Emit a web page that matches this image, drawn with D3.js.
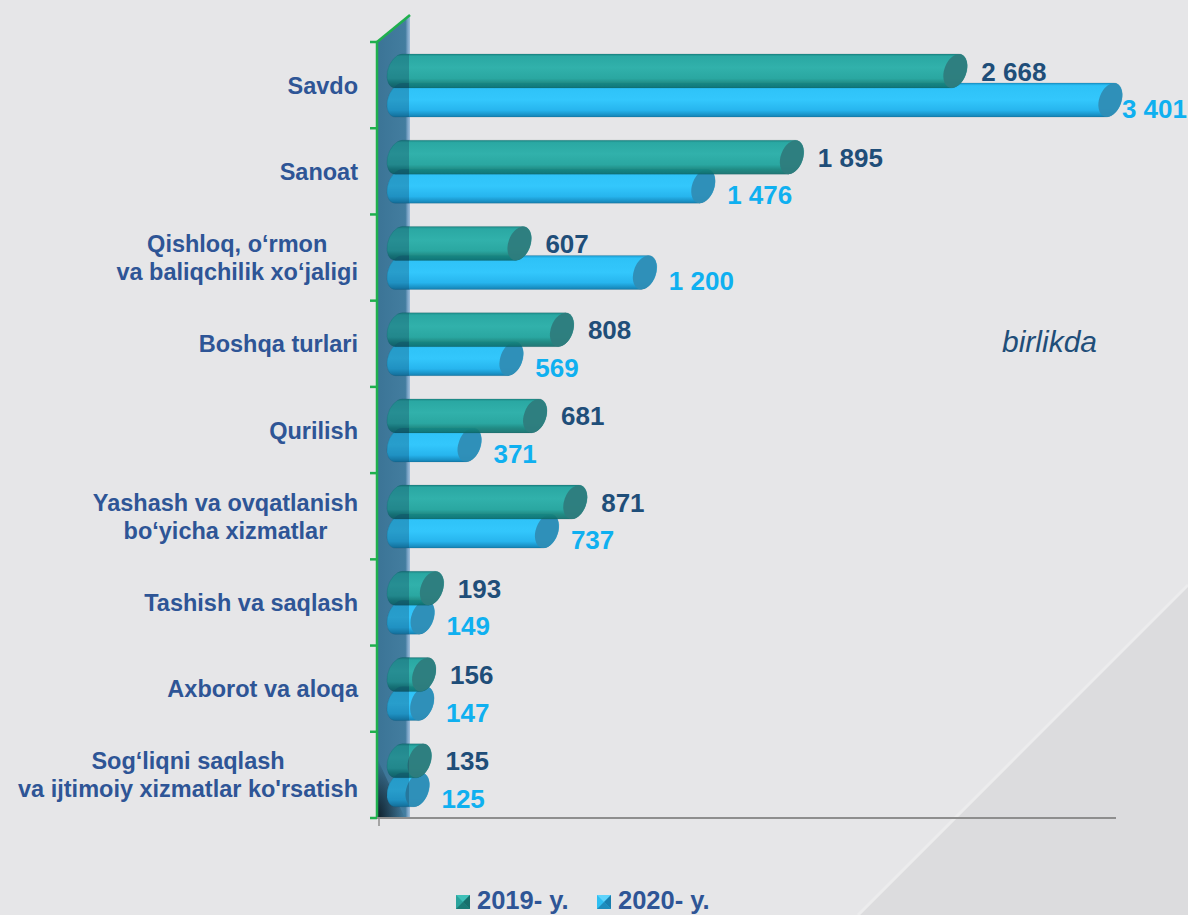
<!DOCTYPE html>
<html>
<head>
<meta charset="utf-8">
<script src="https://cdn.jsdelivr.net/npm/d3@7"></script>
<style>
  html, body { margin: 0; padding: 0; background: #e6e6e8; }
  svg { display: block; font-family: "Liberation Sans", Arial, sans-serif; }
</style>
</head>
<body>
<svg id="chart" width="1188" height="915"></svg>
<script>
// ---- data ----
const categories = [
  "Savdo",
  "Sanoat",
  "Qishloq, o‘rmon\nva baliqchilik xo‘jaligi",
  "Boshqa turlari",
  "Qurilish",
  "Yashash va ovqatlanish\nbo‘yicha xizmatlar",
  "Tashish va saqlash",
  "Axborot va aloqa",
  "Sog‘liqni saqlash\nva ijtimoiy xizmatlar ko'rsatish"
];
const values2019 = [2668, 1895, 607, 808, 681, 871, 193, 156, 135];
const values2020 = [3401, 1476, 1200, 569, 371, 737, 149, 147, 125];
const seriesNames = ["2019- y.", "2020- y."];
const unitLabel = "birlikda";

// ---- setup ----
const W = 1188, H = 915;
const svg = d3.select("#chart");
const defs = svg.append("defs");

const fmt = d3.formatLocale({decimal: ",", thousands: " ", grouping: [3], currency: ["", ""]}).format(",");

const x = d3.scaleLinear().domain([0, 3500]).range([391, 391 + 3500 * 0.2115]);
const y = d3.scaleBand().domain(categories).range([42, 818]).padding(0);

const wallL = 377, wallR = 410;
const barH = 34, off2019 = 12, off2020 = 41;
const capRx = 11, capRy = 17.5, capRot = 20, capDx = 3.4;

// gradients
function vgrad(id, stops) {
  const g = defs.append("linearGradient").attr("id", id)
    .attr("x1", 0).attr("y1", 0).attr("x2", 0).attr("y2", 1);
  stops.forEach(s => g.append("stop").attr("offset", s[0]).attr("stop-color", s[1]).attr("stop-opacity", s[2] == null ? 1 : s[2]));
}
vgrad("g2019", [[0, "#1b8784"], [0.07, "#2aa8a3"], [0.4, "#31b1ab"], [0.72, "#2aa7a1"], [0.86, "#16867f", 0.95], [1, "#0c6b69", 0.9]]);
vgrad("g2020", [[0, "#1996cc"], [0.08, "#2ec2f7"], [0.5, "#33c7fc"], [0.8, "#27b5ee"], [0.92, "#1b97cc"], [1, "#1580b1"]]);

const wg = defs.append("linearGradient").attr("id", "wallg").attr("x1", 0).attr("y1", 0).attr("x2", 1).attr("y2", 0);
wg.append("stop").attr("offset", 0).attr("stop-color", "#3b7496");
wg.append("stop").attr("offset", 0.86).attr("stop-color", "#437d9f");
wg.append("stop").attr("offset", 0.93).attr("stop-color", "#7aa3c6");
wg.append("stop").attr("offset", 1).attr("stop-color", "#a3c1dc");

const sg = defs.append("radialGradient").attr("id", "wallShadow").attr("cx", 0).attr("cy", 1).attr("r", 1);
sg.append("stop").attr("offset", 0).attr("stop-color", "#0c1a24").attr("stop-opacity", 0.95);
sg.append("stop").attr("offset", 1).attr("stop-color", "#0c1a24").attr("stop-opacity", 0);

defs.append("clipPath").attr("id", "wallClip").append("rect")
  .attr("x", wallL).attr("y", 0).attr("width", wallR - wallL - 1).attr("height", H);

// ---- background ----
svg.append("rect").attr("width", W).attr("height", H).attr("fill", "#e6e6e8");
svg.append("path").attr("d", `M${W},${H - 330} L${W},${H} L${W - 330},${H} Z`).attr("fill", "#dcdcde");
svg.append("line").attr("x1", W - 330).attr("y1", H).attr("x2", W).attr("y2", H - 330)
  .attr("stroke", "#ececed").attr("stroke-width", 3);

// ---- wall ----
const top0 = y.range()[0], bot0 = y.range()[1];
svg.append("path")
  .attr("d", `M${wallL},${top0} L${wallR},${top0 - 27} L${wallR},${bot0} L${wallL},${bot0} Z`)
  .attr("fill", "url(#wallg)");
svg.append("path")
  .attr("d", `M${wallL},${bot0} L${wallL},${bot0 - 60} L${wallL + 28},${bot0} Z`)
  .attr("fill", "url(#wallShadow)");

// ---- bars ----
function barPath(v, yTop) {
  const xl = x(0) + 8, xr = x(v), yb = yTop + barH;
  return `M${xl + capDx},${yTop} L${xr + capDx},${yTop} ` +
    `A${capRx},${capRy} ${capRot} 0 1 ${xr - capDx},${yb} ` +
    `L${xl - capDx},${yb} ` +
    `A${capRx},${capRy} ${capRot} 0 1 ${xl + capDx},${yTop} Z`;
}

const barsG = svg.append("g");
const overlayG = svg.append("g").attr("clip-path", "url(#wallClip)");

categories.forEach((c, i) => {
  const series = [
    {v: values2020[i], top: y(c) + off2020, fill: "url(#g2020)", cap: "#2f8db5"},
    {v: values2019[i], top: y(c) + off2019, fill: "url(#g2019)", cap: "#2e7c7d"}
  ];
  series.forEach(s => {
    const g = barsG.append("g");
    g.append("path").attr("d", barPath(s.v, s.top)).attr("fill", s.fill)
      .attr("stroke", "rgba(0,60,70,0.18)").attr("stroke-width", 0.8);
    const cx = x(s.v), cy = s.top + barH / 2;
    g.append("ellipse").attr("cx", cx).attr("cy", cy).attr("rx", capRx).attr("ry", capRy)
      .attr("transform", `rotate(${capRot},${cx},${cy})`)
      .attr("fill", s.cap).attr("fill-opacity", 0.95);
    // wall tint over bar part inside the wall
    overlayG.append("path").attr("d", barPath(s.v, s.top)).attr("fill", "#123f5c").attr("fill-opacity", 0.3);
  });
});

// ---- axis lines ----
const green = "#1fb04e";
svg.append("line").attr("x1", wallL).attr("y1", top0).attr("x2", wallL).attr("y2", bot0)
  .attr("stroke", green).attr("stroke-width", 2.5);
svg.append("line").attr("x1", wallL).attr("y1", top0).attr("x2", wallR).attr("y2", top0 - 27)
  .attr("stroke", green).attr("stroke-width", 2.5);
const tickYs = categories.map(c => y(c)).concat([bot0]);
svg.selectAll(".gtick").data(tickYs).enter().append("line")
  .attr("x1", wallL - 7).attr("x2", wallL).attr("y1", d => d).attr("y2", d => d)
  .attr("stroke", green).attr("stroke-width", 2.5);
svg.append("line").attr("x1", wallL).attr("y1", bot0).attr("x2", 1116).attr("y2", bot0)
  .attr("stroke", "#8e8e8e").attr("stroke-width", 2);
svg.append("line").attr("x1", wallL + 2).attr("y1", bot0).attr("x2", wallL + 2).attr("y2", bot0 + 8)
  .attr("stroke", "#8e8e8e").attr("stroke-width", 1.5);

// ---- category labels ----
const catColor = "#2e5596";
categories.forEach(c => {
  const lines = c.split("\n");
  const g = svg.append("g");
  const texts = lines.map(l => g.append("text").text(l)
    .attr("font-size", 23.5).attr("font-weight", "bold").attr("fill", catColor)
    .attr("text-anchor", "middle"));
  const maxW = d3.max(texts, t => t.node().getComputedTextLength());
  const cx = 358 - maxW / 2;
  const lh = 28;
  const mid = y(c) + y.bandwidth() / 2;
  texts.forEach((t, j) => {
    const cy = mid + (j - (lines.length - 1) / 2) * lh;
    t.attr("x", cx).attr("y", cy + 8.5);
  });
});

// ---- value labels ----
categories.forEach((c, i) => {
  svg.append("text").text(fmt(values2019[i]))
    .attr("font-size", 26).attr("font-weight", "bold").attr("fill", "#1f4e79")
    .attr("x", x(values2019[i]) + 26).attr("y", y(c) + off2019 + barH / 2 + 9.5);
  const t2 = svg.append("text").text(fmt(values2020[i]))
    .attr("font-size", 26).attr("font-weight", "bold").attr("fill", "#0fb0f0")
    .attr("y", y(c) + off2020 + barH / 2 + 18);
  const w2 = t2.node().getComputedTextLength();
  t2.attr("x", Math.min(x(values2020[i]) + 24, W - w2 - 1));
});

// ---- unit ----
svg.append("text").text(unitLabel).attr("x", 1002).attr("y", 352)
  .attr("font-size", 30).attr("font-style", "italic").attr("fill", "#1f4e79");

// ---- legend ----
const legColors = [["#2aa39c", "#176f6b", "#3fc0b8"], ["#2fbff2", "#1a7fae", "#5fd3fb"]];
const legX = [456, 597];
seriesNames.forEach((n, i) => {
  const lx = legX[i], ly = 895, s = 14;
  const [mid, dark, light] = legColors[i];
  const g = svg.append("g");
  g.append("rect").attr("x", lx).attr("y", ly).attr("width", s).attr("height", s).attr("fill", mid);
  g.append("path").attr("d", `M${lx},${ly} L${lx + s},${ly} L${lx + s / 2},${ly + s / 2} Z`).attr("fill", light);
  g.append("path").attr("d", `M${lx + s},${ly} L${lx + s},${ly + s} L${lx + s / 2},${ly + s / 2} Z`).attr("fill", dark);
  g.append("path").attr("d", `M${lx},${ly + s} L${lx + s},${ly + s} L${lx + s / 2},${ly + s / 2} Z`).attr("fill", dark).attr("opacity", 0.8);
  g.append("text").text(n).attr("x", lx + 21).attr("y", 909)
    .attr("font-size", 25.5).attr("font-weight", "bold").attr("fill", catColor);
});
</script>
</body>
</html>
